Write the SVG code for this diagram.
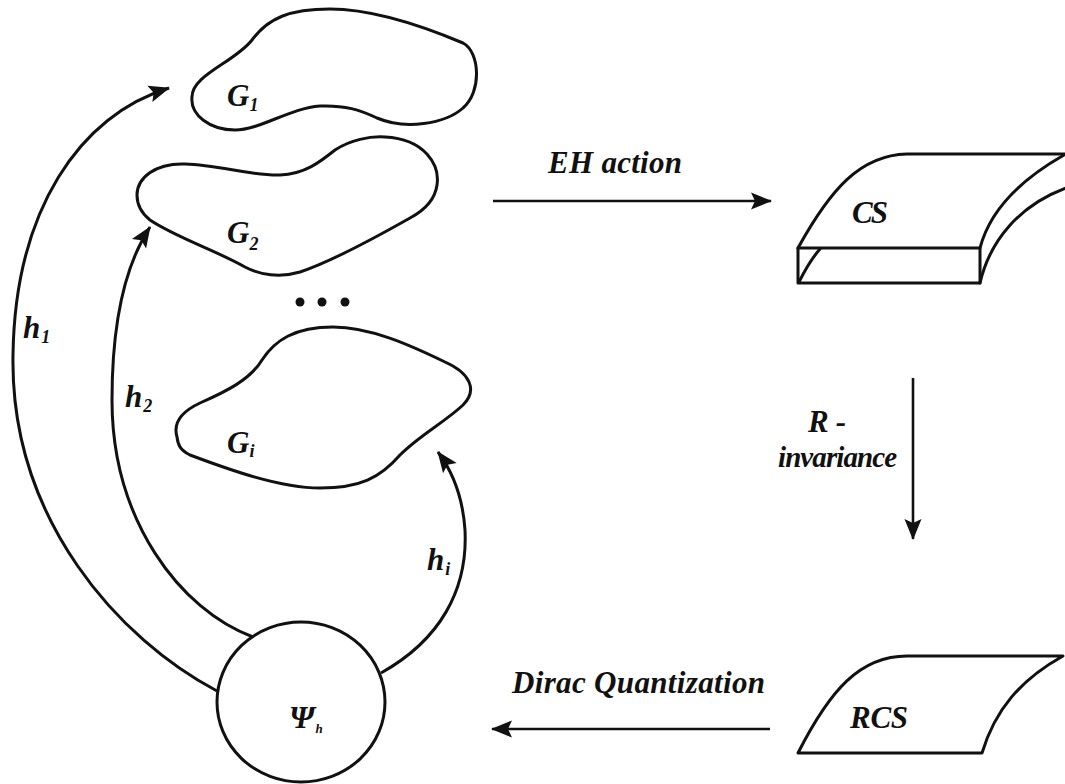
<svg xmlns="http://www.w3.org/2000/svg" width="1065" height="784" viewBox="0 0 1065 784">
<style>
.sh{fill:none;stroke:#111;stroke-width:3;stroke-linejoin:round;stroke-linecap:round}
.cn{fill:none;stroke:#111;stroke-width:3}
.ln{fill:none;stroke:#111;stroke-width:2.6}
text{font-family:"Liberation Serif",serif;font-weight:700;font-style:italic;fill:#111;font-size:31px}
tspan.s{font-size:18px}
</style>
<defs>
<marker id="ah" markerUnits="userSpaceOnUse" markerWidth="21" markerHeight="17" refX="20" refY="8.5" orient="auto" overflow="visible">
<path d="M0,0 L21,8.5 L0,17 L4,8.5 Z" fill="#111"/>
</marker>
</defs>
<rect width="1065" height="784" fill="#fff"/>

<g id="G1">
<path class="sh" d="M 192 97 C 192 75, 235 62, 252 40 C 268 18, 290 9, 330 9 C 375 9, 425 27, 463 43 C 480 52, 482 92, 463 108 C 445 124, 405 130, 377 118 C 360 110, 345 105, 320 106 C 290 108, 260 130, 235 130 C 210 130, 190 115, 192 97 Z"/>
<text x="227" y="106">G<tspan class="s" dy="5">1</tspan></text>
</g>

<g id="G2">
<path class="sh" d="M 137 195 C 137 178, 155 163, 185 164 C 220 165, 250 176, 280 175 C 305 174, 320 162, 335 150 C 350 140, 370 136, 385 137 C 425 139, 440 165, 437 185 C 435 200, 425 210, 410 218 C 380 235, 330 262, 300 272 C 280 278, 260 275, 245 267 C 215 250, 175 237, 150 220 C 140 212, 137 203, 137 195 Z"/>
<text x="227" y="243">G<tspan class="s" dy="7">2</tspan></text>
</g>

<g id="dots" fill="#111">
<circle cx="300" cy="302" r="4.5"/>
<circle cx="322" cy="302" r="4.5"/>
<circle cx="345" cy="302" r="4.5"/>
</g>

<g id="Gi">
<path class="sh" d="M 177 437 C 172 420, 185 410, 200 403 C 225 392, 250 380, 262 360 C 275 340, 295 327, 333 327 C 370 327, 410 345, 445 362 C 470 373, 478 390, 463 405 C 445 422, 420 435, 400 455 C 380 478, 360 488, 320 488 C 280 488, 230 470, 190 455 C 180 450, 178 445, 177 437 Z"/>
<text x="227" y="453">G<tspan class="s" dy="4">i</tspan></text>
</g>

<g id="Psi">
<ellipse class="sh" cx="301" cy="702" rx="84" ry="80"/>
<text x="289" y="728" style="font-size:32px">Ψ<tspan style="font-size:13px" dy="5" dx="1">h</tspan></text>
</g>

<g id="CS">
<path class="sh" d="M 798 248 C 830 190, 860 155, 907 154 L 1066 154"/>
<rect class="sh" x="798" y="248" width="182" height="35"/>
<path class="sh" d="M 1064 155 C 1020 180, 990 210, 980 248"/>
<path class="sh" d="M 980 283 C 990 240, 1020 205, 1066 188"/>
<path class="sh" d="M 799 282 C 805 270, 812 258, 820 249"/>
<text x="852" y="223" textLength="36">CS</text>
</g>

<g id="RCS">
<path class="sh" d="M 798 753 C 830 690, 860 656, 907 656 L 1063 656 C 1020 680, 995 710, 982 753 Z"/>
<text x="850" y="728" textLength="58">RCS</text>
</g>

<g id="connectors">
<path class="cn" marker-end="url(#ah)" d="M 217 691 C 120 640, 10 520, 13 355 C 15 210, 80 115, 169 88"/>
<path class="cn" marker-end="url(#ah)" d="M 253 637 C 180 610, 112 520, 112 400 C 112 320, 125 265, 150 227"/>
<path class="cn" marker-end="url(#ah)" d="M 381 673 C 440 640, 468 590, 465 530 C 463 500, 455 475, 438 452"/>
<path class="ln" marker-end="url(#ah)" d="M 493 201 L 771 201"/>
<path class="ln" marker-end="url(#ah)" d="M 913 378 L 913 539"/>
<path class="ln" marker-end="url(#ah)" d="M 770 729 L 492 729"/>
<text x="23" y="338">h<tspan class="s" dy="5" dx="1">1</tspan></text>
<text x="125" y="407">h<tspan class="s" dy="5" dx="1">2</tspan></text>
<text x="427" y="570">h<tspan class="s" dy="5" dx="1">i</tspan></text>
<text x="548" y="173" textLength="134">EH action</text>
<text x="808" y="432" textLength="38">R -</text>
<text x="778" y="467" textLength="119" style="font-size:29px">invariance</text>
<text x="512" y="693" textLength="253">Dirac Quantization</text>
</g>
</svg>
